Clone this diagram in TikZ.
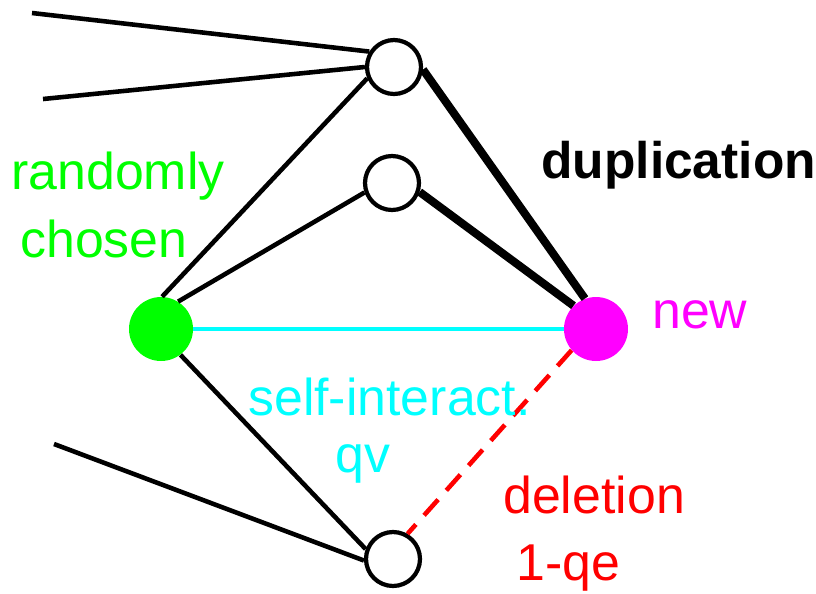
\documentclass[tikz,border=0pt]{standalone}
\usepackage{fontspec}
\setmainfont{Liberation Sans}
\usepackage{tikz}

\definecolor{chosengreen}{RGB}{0,255,0}
\definecolor{newmagenta}{RGB}{255,0,255}
\definecolor{selfcyan}{RGB}{0,255,255}
\definecolor{delred}{RGB}{255,0,0}

\tikzset{
  vertex/.style={circle, draw, line width=2.4pt, fill=white, minimum size=1.08cm, inner sep=0},
  dot/.style={circle, inner sep=0, minimum size=1.28cm},
  edge/.style={line width=2.6pt},
  dupedge/.style={line width=4.6pt},
  lab/.style={anchor=base west, inner sep=0, font=\fontsize{29.5}{35}\selectfont}
}

\begin{document}
\begin{tikzpicture}[x=0.02cm, y=-0.02cm]

\useasboundingbox (0,0) rectangle (816,593);

% the five proteins
\node [vertex] (top) at (394,67) {};
\node [vertex] (mid) at (392,183) {};
\node [vertex] (bot) at (393,559) {};
\node [dot, fill=chosengreen] (old) at (161,329) {};
\node [dot, fill=newmagenta] (new) at (596,329) {};

% loose ends to the rest of the network
\coordinate (in1) at (32,13);
\coordinate (in2) at (43,99);
\coordinate (in3) at (54,444);

\draw [edge] (in1) -- (top.148);
\draw [edge] (in2) -- (top.180);
\draw [edge] (in3) -- (bot.183);

% links of the chosen node
\draw [edge] (old.88) -- (top.203);
\draw [edge] (old.58) -- (mid.199);
\draw [edge] (old.307) -- (bot.160);

% copied links
\draw [dupedge] (top.355) -- (new.110);
\draw [dupedge] (mid.342) -- (new.134);
\draw [edge, selfcyan] (old) -- (new);
\draw [edge, delred, dash pattern=on 12pt off 7pt] (new.221) -- (bot.60);

% labels
\node [lab, chosengreen] (rand) at (11,189) {randomly};
\node [lab, chosengreen] (chos) at (20,257) {chosen};
\node [lab, font=\fontsize{29.3}{35}\selectfont\bfseries] (dup) at (541,178) {duplication};
\node [lab, newmagenta] (newlab) at (652,328) {new};
\node [lab, selfcyan] (self) at (248,415) {self-interact.};
\node [lab, selfcyan] (qv) at (335,472) {qv};
\node [lab, delred] (del) at (503,513) {deletion};
\node [lab, delred] (qe) at (516,580) {1-qe};

\end{tikzpicture}
\end{document}
